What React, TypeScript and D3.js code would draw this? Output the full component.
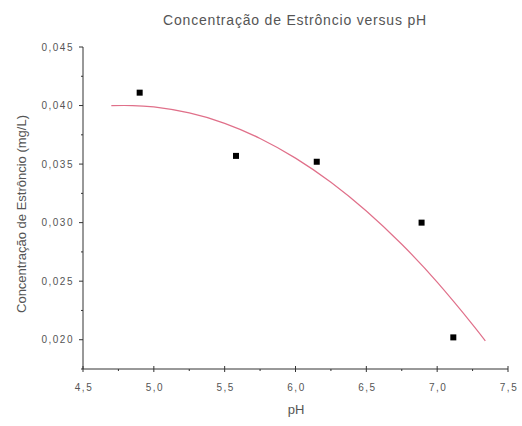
import React from "react";
import { scaleLinear, line, curveNatural } from "d3";

// measured points
const phValues = [4.9, 5.58, 6.15, 6.89, 7.114];
const concValues = [0.0411, 0.0357, 0.0352, 0.03, 0.0202];

// fitted curve
const fitPh = [4.7, 4.85, 5.0, 5.25, 5.5, 5.75, 6.0, 6.25, 6.5, 6.75, 7.0, 7.25, 7.34];
const fitConc = [0.04, 0.04, 0.03988, 0.03937, 0.03848, 0.03719, 0.03551, 0.03345, 0.03099, 0.02815, 0.02492, 0.0213, 0.0199];

const xTicks = [4.5, 5.0, 5.5, 6.0, 6.5, 7.0, 7.5];
const xMinor = [4.75, 5.25, 5.75, 6.25, 6.75, 7.25];
const yTicks = [0.02, 0.025, 0.03, 0.035, 0.04, 0.045];
const yMinor = [0.0175, 0.0225, 0.0275, 0.0325, 0.0375, 0.0425];

const width = 522;
const height = 426;
const textColor = "#555";
const font = "'Liberation Sans', Arial, sans-serif";

const App = () => {
  const xScale = scaleLinear().domain([4.5, 7.5]).range([83, 508]);
  const yScale = scaleLinear().domain([0.0175, 0.045]).range([369, 47]);
  const x0 = xScale(4.5);
  const y0 = yScale(0.0175);

  const fitLine = line<number>()
    .x((d) => xScale(fitPh[d]))
    .y((d) => yScale(fitConc[d]))
    .curve(curveNatural);

  return (
    <svg
      width={width}
      height={height}
      viewBox={`0 0 ${width} ${height}`}
      style={{ position: "absolute", left: 0, top: 0, background: "#fff" }}
      fontFamily={font}
    >
      <text x={295} y={25} textAnchor="middle" fontSize="14px" letterSpacing="0.8px" fill={textColor}>
        Concentração de Estrôncio versus pH
      </text>

      {/* axes */}
      <line x1={x0} x2={xScale(7.5)} y1={y0} y2={y0} stroke="#333" strokeWidth="1" />
      <line x1={x0} x2={x0} y1={y0} y2={yScale(0.045)} stroke="#333" strokeWidth="1" />

      {xTicks.map((t) => (
        <g key={t}>
          <line x1={xScale(t)} x2={xScale(t)} y1={y0 - 3} y2={y0 + 3} stroke="#333" />
          <text x={xScale(t) + 1} y={391} textAnchor="middle" fontSize="10px" letterSpacing="1.5px" fill={textColor}>
            {t.toFixed(1).replace(".", ",")}
          </text>
        </g>
      ))}
      {xMinor.map((t) => (
        <line key={t} x1={xScale(t)} x2={xScale(t)} y1={y0} y2={y0 + 2} stroke="#333" />
      ))}
      {yTicks.map((t) => (
        <g key={t}>
          <line x1={x0 - 4} x2={x0} y1={yScale(t)} y2={yScale(t)} stroke="#333" />
          <text x={74} y={yScale(t) + 3.5} textAnchor="end" fontSize="10px" letterSpacing="1.5px" fill={textColor}>
            {t.toFixed(3).replace(".", ",")}
          </text>
        </g>
      ))}
      {yMinor.map((t) => (
        <line key={t} x1={x0 - 2} x2={x0} y1={yScale(t)} y2={yScale(t)} stroke="#333" />
      ))}

      <text x={296} y={414} textAnchor="middle" fontSize="13px" fill={textColor}>
        pH
      </text>
      <text
        transform={`translate(26, ${(yScale(0.045) + y0) / 2 + 6}) rotate(-90)`}
        textAnchor="middle"
        fontSize="13px"
        fill={textColor}
      >
        Concentração de Estrôncio (mg/L)
      </text>

      <path d={fitLine(fitPh.map((_, i) => i)) ?? ""} fill="none" stroke="#e0708a" strokeWidth="1.2" />

      {phValues.map((p, i) => (
        <rect key={p} x={xScale(p) - 3} y={yScale(concValues[i]) - 3} width={6} height={6} fill="#000" />
      ))}
    </svg>
  );
};

export default App;
